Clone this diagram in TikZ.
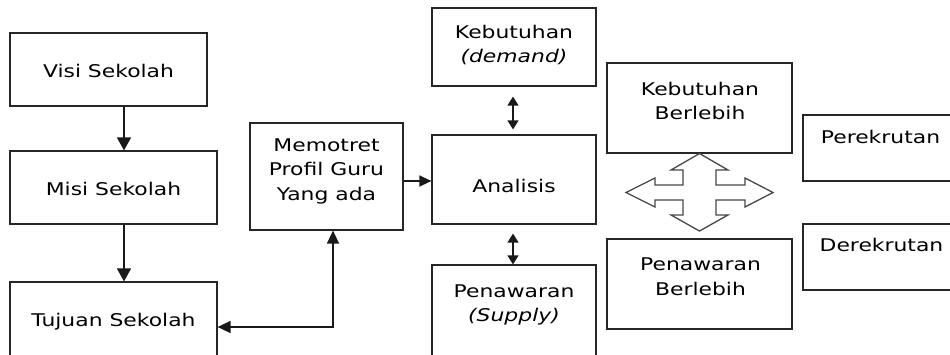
\documentclass[tikz,border=0pt]{standalone}
\usepackage{fontspec}
\setmainfont{DejaVu Sans}[FakeStretch=1.25]
\usetikzlibrary{arrows.meta,calc}
\begin{document}
\begin{tikzpicture}[x=1pt,y=-1pt,
  box/.style={draw=black!85, line width=1.2pt, inner sep=0pt, fill=white},
  txt/.style={inner sep=0pt, align=center, text=black, font=\fontsize{17.5pt}{24.5pt}\selectfont},
  arr/.style={draw=black!90, line width=1.3pt, -{Triangle[width=14pt,length=13pt]}},
  arrb/.style={draw=black!90, line width=1.3pt, {Triangle[width=12pt,length=13pt]}-{Triangle[width=12pt,length=13pt]}},
  arrs/.style={draw=black!90, line width=1.3pt, {Triangle[width=11pt,length=9pt]}-{Triangle[width=11pt,length=9pt]}},
  arrm/.style={draw=black!90, line width=1.3pt, -{Triangle[width=11pt,length=12pt]}},
  quad/.style={draw=black!72, line width=1.3pt, fill=white, line join=miter}
]
\useasboundingbox (0,0) rectangle (950,354);
\clip (0,0) rectangle (950,354);

% boxes
\node[box, minimum width=197pt, minimum height=73pt] (visi) at (108.5,69.5) {};
\node[box, minimum width=207pt, minimum height=73pt] (misi) at (113.5,187.5) {};
\node[box, minimum width=207pt, minimum height=90pt] (tujuan) at (113.5,327) {};
\node[box, minimum width=153pt, minimum height=107pt] (memotret) at (326.5,176.5) {};
\node[box, minimum width=164pt, minimum height=78pt] (demand) at (514,47) {};
\node[box, minimum width=164pt, minimum height=89pt] (analisis) at (514,179.5) {};
\node[box, minimum width=164pt, minimum height=100pt] (supply) at (514,315) {};
\node[box, minimum width=185pt, minimum height=90pt] (kebb) at (699.5,108) {};
\node[box, minimum width=185pt, minimum height=90pt] (penb) at (699.5,284) {};
\node[box, minimum width=160pt, minimum height=66pt] (rekrut) at (883,148) {};
\node[box, minimum width=160pt, minimum height=66pt] (derek) at (883,257) {};

% texts
\node[txt, anchor=base] (tvisi) at (108.5,77.5) {Visi Sekolah};
\node[txt, anchor=base] (tmisi) at (113.5,195) {Misi Sekolah};
\node[txt, anchor=base] (ttujuan) at (113.5,326) {Tujuan Sekolah};
\node[txt] (tmemotret) at (326.5,171) {Memotret\\Profil Guru\\Yang ada};
\node[txt] (tdemand) at (514,45) {Kebutuhan\\\textit{(demand)}};
\node[txt, anchor=base] (tanalisis) at (514,192) {Analisis};
\node[txt] (tsupply) at (514,305) {Penawaran\\\textit{(Supply)}};
\node[txt] (tkebb) at (700,101) {Kebutuhan\\Berlebih};
\node[txt] (tpenb) at (700.5,276.5) {Penawaran\\Berlebih};
\node[txt, anchor=base] (trekrut) at (880.5,143) {Perekrutan};
\node[txt, anchor=base] (tderek) at (881.5,251) {Derekrutan};

% connectors
\draw[arr] (visi.south -| 124,0) -- (misi.north -| 124,0);
\draw[arr] (misi.south -| 124,0) -- (tujuan.north -| 124,0);
\draw[arrb] (tujuan.east) -| (memotret.south -| 333,0);
\draw[arrm] (memotret.east |- 0,181) -- (analisis.west |- 0,181);
\draw[arrs, shorten <=10pt, shorten >=5pt] (demand.south -| 513,0) -- (analisis.north -| 513,0);
\draw[arrs, shorten <=9pt] (analisis.south -| 513,0) -- (supply.north -| 513,0);

% four-way arrow
\draw[quad] (699.5,153.5) -- (728,170) -- (716,170) -- (716,185) -- (745,185) -- (745,178)
  -- (773,192.5) -- (745,207) -- (745,200) -- (716,200) -- (716,215) -- (728,215)
  -- (699.5,231) -- (671,215) -- (683,215) -- (683,200) -- (655,200) -- (655,207)
  -- (626,192.5) -- (655,178) -- (655,185) -- (683,185) -- (683,170) -- (671,170) -- cycle;
\end{tikzpicture}
\end{document}
